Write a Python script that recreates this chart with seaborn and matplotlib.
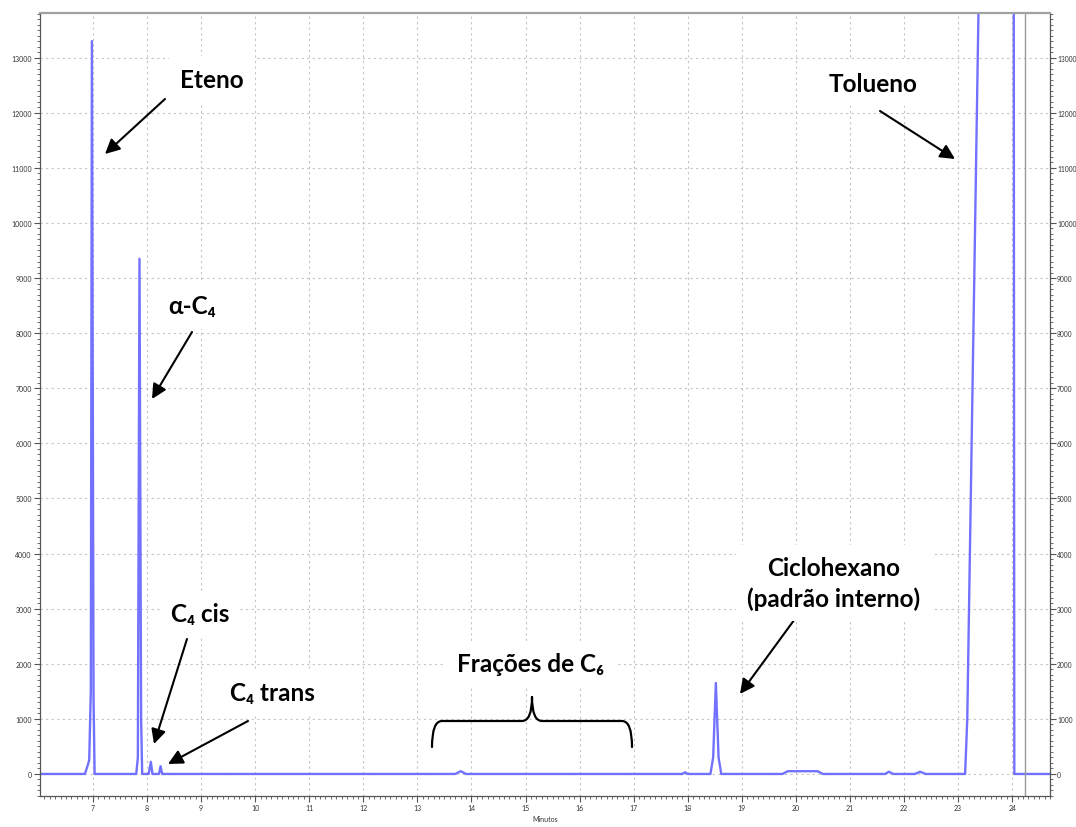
import numpy as np
import pandas as pd
import seaborn as sns
import matplotlib.pyplot as plt
from matplotlib.ticker import MultipleLocator
from matplotlib.patches import PathPatch
from matplotlib.path import Path

# ---- data (retention time in minutes, detector signal) ----
time_min = [6.02, 6.85, 6.90, 6.93, 6.96, 6.98, 7.01, 7.03,
            7.80, 7.83, 7.86, 7.89, 7.91,
            8.03, 8.07, 8.10, 8.22, 8.25, 8.28,
            13.70, 13.80, 13.90,
            17.90, 17.95, 18.00,
            18.42, 18.47, 18.52, 18.57, 18.62,
            19.75, 19.85, 20.40, 20.50,
            21.65, 21.72, 21.80, 22.20, 22.30, 22.40,
            23.13, 23.17, 23.38, 23.50, 23.95, 24.03, 24.04, 24.70]
signal = [0, 0, 150, 250, 1500, 13300, 1400, 0,
          0, 300, 9350, 1000, 0,
          0, 220, 0, 0, 140, 0,
          0, 50, 0,
          0, 30, 0,
          0, 300, 1650, 300, 0,
          0, 50, 50, 0,
          0, 40, 0, 0, 40, 0,
          0, 1000, 14000, 20000, 20000, 14000, 0, 0]
end_marker_min = 24.24
x_ticks = list(range(7, 25))
y_ticks = list(range(0, 14000, 1000))

sns.set_style("white")
plt.rcParams['font.family'] = ['Lato', 'DejaVu Sans']

W, H = 1076, 828
fig = plt.figure(figsize=(W / 100, H / 100), dpi=100)
L, R, T, B = 40, 1050, 14, 797
ax = fig.add_axes([L / W, 1 - B / H, (R - L) / W, (B - T) / H])

df = pd.DataFrame({'Minutos': time_min, 'sinal': signal})
sns.lineplot(data=df, x='Minutos', y='sinal', ax=ax, estimator=None, sort=False,
             color='#6a6aff', lw=1.7, alpha=0.95)
ax.axvline(end_marker_min, color='#9a9a9a', lw=1.0)

ax.set_xlim(6.02, 24.70)
ax.set_ylim(-400, 13810)
ax.set_xticks(x_ticks)
ax.set_yticks(y_ticks)
ax.xaxis.set_minor_locator(MultipleLocator(0.1))
ax.yaxis.set_minor_locator(MultipleLocator(100))
ax.grid(which='major', color='#c4c4c4', linestyle=(0, (2, 3)), lw=0.8)
ax.tick_params(which='major', direction='out', length=4, width=0.8, color='#555555',
               labelsize=5, labelcolor='#333333', bottom=True, left=True, pad=2)
ax.tick_params(which='minor', direction='out', length=2, width=0.6, color='#555555',
               bottom=True, left=True)
ax.set_xlabel('Minutos', fontsize=5, color='#333333', labelpad=3)
ax.set_ylabel('')
for s in ['left', 'bottom', 'right']:
    ax.spines[s].set_color('#555555')
    ax.spines[s].set_linewidth(0.9)
ax.spines['top'].set_color('#a0a0a0')
ax.spines['top'].set_linewidth(1.6)

ax2 = ax.twinx()
ax2.set_ylim(ax.get_ylim())
ax2.set_yticks(y_ticks)
ax2.yaxis.set_minor_locator(MultipleLocator(100))
ax2.tick_params(which='major', direction='out', length=4, width=0.8, color='#555555',
                labelsize=4.8, labelcolor='#333333', right=True, pad=1)
ax2.tick_params(which='minor', direction='out', length=2, width=0.6, color='#555555', right=True)
ax2.grid(False)
for s in ax2.spines.values():
    s.set_visible(False)


def fp(x, y):
    return (x / W, 1 - y / H)


lab_font = dict(fontsize=17.5, fontweight='bold', color='black',
                family=['Lato', 'DejaVu Sans'], ha='center', va='center')
box = dict(facecolor='white', edgecolor='none', pad=8)

labels = [
    ('Eteno', (212, 80)),
    ('Tolueno', (873, 84)),
    ('α-C₄', (192, 307)),
    ('C₄ cis', (200, 615)),
    ('C₄ trans', (272, 694)),
    ('Frações de C₆', (531, 665)),
    ('Ciclohexano\n(padrão interno)', (834, 584)),
]
for txt, (x, y) in labels:
    fig.text(*fp(x, y), txt, bbox=box, linespacing=1.35, multialignment='center', **lab_font)

arrows = [
    ((165, 100), (105, 155)),
    ((192, 333), (152, 400)),
    ((187, 640), (154, 745)),
    ((248, 722), (168, 765)),
    ((880, 112), (955, 160)),
    ((800, 613), (740, 695)),
]
for tail, head in arrows:
    ax.annotate('', xy=fp(*head), xycoords='figure fraction',
                xytext=fp(*tail), textcoords='figure fraction',
                arrowprops=dict(arrowstyle='-|>', color='black', lw=1.5,
                                mutation_scale=22, shrinkA=0, shrinkB=0))

# curly brace under "Frações de C6"
bx0, bx1, bxm = 432, 632, 532
by_end, by_mid, by_tip = 748, 722, 698
verts = [fp(bx0, by_end), fp(bx0, by_mid), fp(bx0 + 10, by_mid),
         fp(bxm - 10, by_mid), fp(bxm, by_mid), fp(bxm, by_tip),
         fp(bxm, by_tip), fp(bxm, by_mid), fp(bxm + 10, by_mid),
         fp(bx1 - 10, by_mid), fp(bx1, by_mid), fp(bx1, by_end)]
codes = [Path.MOVETO, Path.CURVE3, Path.CURVE3,
         Path.LINETO, Path.CURVE3, Path.CURVE3,
         Path.MOVETO, Path.CURVE3, Path.CURVE3,
         Path.LINETO, Path.CURVE3, Path.CURVE3]
brace = PathPatch(Path(verts, codes), transform=fig.transFigure, fill=False,
                  edgecolor='black', lw=1.6, capstyle='round', joinstyle='round')
fig.patches.append(brace)

fig.savefig('out.png', dpi=100)
